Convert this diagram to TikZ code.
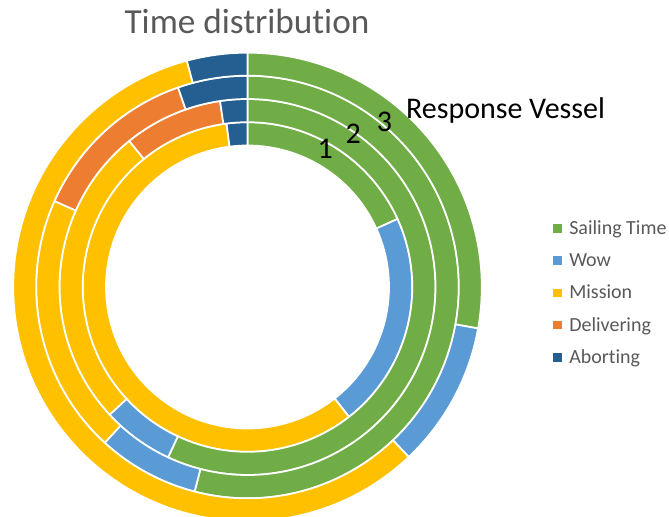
\documentclass[tikz,border=0pt]{standalone}
\usepackage{fontspec}
\setmainfont{Carlito}[Ligatures={NoCommon}]
\usepackage{tikz}
\usetikzlibrary{positioning}
\usepackage{xcolor}
\definecolor{sailcol}{HTML}{70AD47}
\definecolor{wowcol}{HTML}{5B9BD5}
\definecolor{misscol}{HTML}{FFC000}
\definecolor{delcol}{HTML}{ED7D31}
\definecolor{abortcol}{HTML}{255E91}
\definecolor{labelgray}{HTML}{595959}

\begin{document}
\begin{tikzpicture}[x=0.75pt, y=0.75pt,
    seg/.style={draw=white, line width=1.3pt},
    legsq/.style={minimum size=6.4pt, inner sep=0pt},
    legtext/.style={font=\fontsize{15}{17}\selectfont, text=labelgray, inner sep=0pt, anchor=base west},
    ringlab/.style={font=\fontsize{22.5}{26}\selectfont, text=black, inner sep=0pt}]
    \useasboundingbox (0,0) rectangle (669,517);

    % rings: inner r / outer r / from / to (clockwise from top) / colour
    \begin{scope}[shift={(247.5,230)}]
    \foreach \ri/\ro/\a/\b/\c in {
        141.5/164.8/0/65.6/sailcol, 141.5/164.8/65.6/142/wowcol,
        141.5/164.8/142/352.7/misscol, 141.5/164.8/352.7/360/abortcol,
        164.8/188/0/205/sailcol, 164.8/188/205/227.2/wowcol,
        164.8/188/227.2/321/misscol, 164.8/188/321/351.6/delcol,
        164.8/188/351.6/360/abortcol,
        188/211.3/0/194.5/sailcol, 188/211.3/194.5/222.5/wowcol,
        188/211.3/222.5/294/misscol, 188/211.3/294/340.8/delcol,
        188/211.3/340.8/360/abortcol,
        211.3/234.3/0/100.2/sailcol, 211.3/234.3/100.2/136.5/wowcol,
        211.3/234.3/136.5/345/misscol, 211.3/234.3/345/360/abortcol} {
        \filldraw[seg, fill=\c] (90-\a:\ro) arc[start angle=90-\a, end angle=90-\b, radius=\ro]
            -- (90-\b:\ri) arc[start angle=90-\b, end angle=90-\a, radius=\ri] -- cycle;
    }
    \end{scope}

    \node[font=\fontsize{26.4}{30}\selectfont, text=labelgray, inner sep=0pt, anchor=base] (title) at (247,483.7) {Time distribution};

    \node[ringlab, anchor=base] (lab1) at (325.3,358.7) {1};
    \node[ringlab, anchor=base] (lab2) at (353.2,373) {2};
    \node[ringlab, anchor=base] (lab3) at (384.4,385.3) {3};
    \node[ringlab, anchor=base west] (vessel) at (405.8,398) {Response Vessel};

    % legend
    \foreach \c/\t [count=\i] in {sailcol/Sailing Time, wowcol/Wow, misscol/Mission, delcol/Delivering, abortcol/Aborting} {
        \node[legsq, fill=\c] (sq\i) at (557.5,{288.7-32.3*(\i-1)}) {};
        \node[legtext] (leg\i) at (569,{282.7-32.3*(\i-1)}) {\t};
    }
\end{tikzpicture}
\end{document}
